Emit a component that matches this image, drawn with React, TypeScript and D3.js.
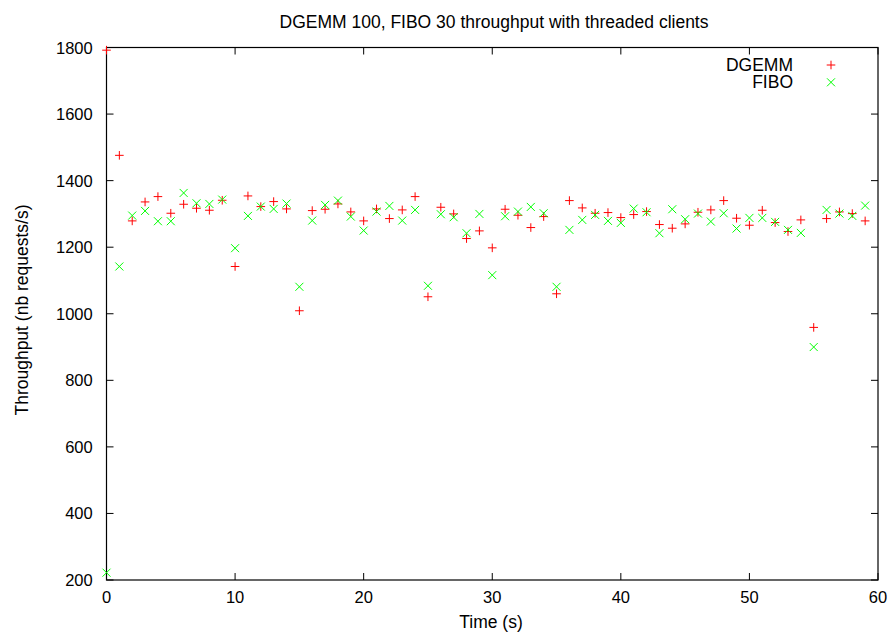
import React from "react";
import * as d3 from "d3";

const times = d3.range(0, 60);
const dgemm = [1792, 1476, 1279, 1336, 1352, 1302, 1329, 1317, 1311, 1341, 1142, 1354, 1322, 1337, 1315, 1009, 1310, 1314, 1330, 1306, 1279, 1315, 1286, 1312, 1352, 1051, 1320, 1300, 1226, 1249, 1198, 1314, 1296, 1259, 1292, 1060, 1340, 1318, 1302, 1304, 1289, 1298, 1307, 1268, 1257, 1270, 1305, 1312, 1340, 1287, 1266, 1311, 1274, 1247, 1282, 959, 1286, 1306, 1301, 1279];
const fibo = [222, 1142, 1295, 1309, 1278, 1278, 1363, 1332, 1330, 1343, 1197, 1294, 1322, 1315, 1331, 1081, 1280, 1327, 1340, 1292, 1250, 1307, 1324, 1280, 1312, 1084, 1299, 1290, 1242, 1300, 1116, 1293, 1307, 1321, 1302, 1081, 1252, 1282, 1297, 1279, 1273, 1316, 1305, 1242, 1314, 1284, 1301, 1277, 1302, 1256, 1288, 1288, 1276, 1252, 1243, 900, 1312, 1301, 1294, 1325];
const xTicks = [0, 10, 20, 30, 40, 50, 60];
const yTicks = [200, 400, 600, 800, 1000, 1200, 1400, 1600, 1800];
const title = "DGEMM 100, FIBO 30 throughput with threaded clients";
const xLabel = "Time (s)";
const yLabel = "Throughput (nb requests/s)";
const seriesNames = ["DGEMM", "FIBO"];

export default function App() {
  const W = 893, H = 636;
  const left = 106.5, right = 878, top = 47.5, bottom = 580;
  const x = d3.scaleLinear().domain([0, 60]).range([left, right]);
  const y = d3.scaleLinear().domain([200, 1800]).range([bottom, top]);
  const font = "'Liberation Sans', Arial, sans-serif";
  const fs = 17.5;
  const tfs = 16.5;
  const tl = 7;
  const plus = (cx: number, cy: number, key: string) => (
    <path key={key} d={`M${cx - 4.3},${cy}H${cx + 4.3}M${cx},${cy - 4.3}V${cy + 4.3}`} stroke="#ff0000" strokeWidth={1} fill="none" />
  );
  const cross = (cx: number, cy: number, key: string) => (
    <path key={key} d={`M${cx - 4},${cy - 4}L${cx + 4},${cy + 4}M${cx - 4},${cy + 4}L${cx + 4},${cy - 4}`} stroke="#00ff00" strokeWidth={1} fill="none" />
  );
  return (
    <svg width={W} height={H} style={{ position: "absolute", left: 0, top: 0, background: "#fff" }} fontFamily={font}>
      <rect x={0} y={0} width={W} height={H} fill="#fff" />
      <text x={494} y={27.5} fontSize={fs} textAnchor="middle" fill="#000">{title}</text>
      {xTicks.map((t) => (
        <g key={"x" + t}>
          <line x1={x(t)} x2={x(t)} y1={bottom} y2={bottom - tl} stroke="#000" />
          <line x1={x(t)} x2={x(t)} y1={top} y2={top + tl} stroke="#000" />
          <text x={x(t)} y={603.3} fontSize={tfs} textAnchor="middle" fill="#000">{t}</text>
        </g>
      ))}
      {yTicks.map((t) => (
        <g key={"y" + t}>
          <line x1={left} x2={left + tl} y1={y(t)} y2={y(t)} stroke="#000" />
          <line x1={right} x2={right - tl} y1={y(t)} y2={y(t)} stroke="#000" />
          <text x={92.7} y={y(t) + 6} fontSize={tfs} textAnchor="end" fill="#000">{t}</text>
        </g>
      ))}
      <rect x={left} y={top} width={right - left} height={bottom - top} fill="none" stroke="#000" strokeWidth={1.2} />
      <text x={491} y={627.5} fontSize={fs} textAnchor="middle" fill="#000">{xLabel}</text>
      <text transform={`translate(27.5,310) rotate(-90)`} fontSize={fs} textAnchor="middle" fill="#000">{yLabel}</text>
      {times.map((t, i) => plus(x(t), y(dgemm[i]), "d" + i))}
      {times.map((t, i) => cross(x(t), y(fibo[i]), "f" + i))}
      <text x={793} y={70.7} fontSize={fs} textAnchor="end" fill="#000">{seriesNames[0]}</text>
      {plus(831, 65, "lp")}
      <text x={793} y={87.5} fontSize={fs} textAnchor="end" fill="#000">{seriesNames[1]}</text>
      {cross(831, 82.3, "lf")}
    </svg>
  );
}
